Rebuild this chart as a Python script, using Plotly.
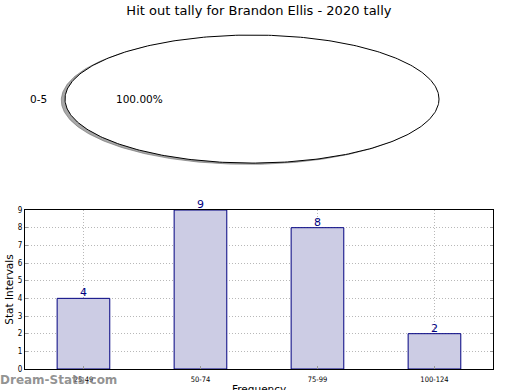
import numpy as np
import plotly.graph_objects as go

title = "Hit out tally for Brandon Ellis - 2020 tally"
pie_labels = ["0-5"]
pie_values = [1]
bar_categories = ["25-49", "50-74", "75-99", "100-124"]
bar_values = [4, 9, 8, 2]
y_ticks = list(range(0, 10))

fig = go.Figure()

# --- pie drawn like a matplotlib pie on a non-equal-aspect axis ---
total = sum(pie_values)
start = 0.0
for lab, v in zip(pie_labels, pie_values):
    frac = v / total
    th = np.linspace(start, start + 2 * np.pi * frac, 361)
    xs, ys = np.cos(th), np.sin(th)
    if frac < 0.9999:
        xs = np.concatenate([[0], xs, [0]])
        ys = np.concatenate([[0], ys, [0]])
    # shadow
    fig.add_trace(go.Scatter(x=xs - 0.02, y=ys - 0.02, mode="lines", fill="toself",
                             fillcolor="rgba(110,110,110,0.6)", line=dict(color="rgba(110,110,110,0.6)", width=1),
                             xaxis="x2", yaxis="y2", hoverinfo="skip", showlegend=False))
    fig.add_trace(go.Scatter(x=xs, y=ys, mode="lines", fill="toself",
                             fillcolor="white", line=dict(color="black", width=1),
                             xaxis="x2", yaxis="y2", hoverinfo="skip", showlegend=False))
    mid = start + np.pi * frac
    fig.add_annotation(x=1.1 * np.cos(mid), y=1.1 * np.sin(mid), xref="x2", yref="y2",
                       text=lab, showarrow=False, xanchor="right" if np.cos(mid) < 0 else "left",
                       xshift=3, font=dict(size=10.5, color="black"))
    fig.add_annotation(x=0.6 * np.cos(mid), y=0.6 * np.sin(mid), xref="x2", yref="y2",
                       text=f"{frac*100:.2f}%", showarrow=False,
                       font=dict(size=10.5, color="black"))
    start += 2 * np.pi * frac

# --- bar chart ---
fig.add_trace(go.Bar(x=bar_categories, y=bar_values, width=0.45,
                     marker=dict(color="#ccccE4", line=dict(color="#000080", width=1)),
                     showlegend=False))
for c, v in zip(bar_categories, bar_values):
    fig.add_annotation(x=c, y=v, xref="x", yref="y", text=str(v), showarrow=False,
                       yanchor="bottom", yshift=-3, font=dict(size=11, color="#000080"))

fig.update_layout(
    width=520, height=390,
    margin=dict(l=0, r=0, t=0, b=0, autoexpand=False),
    paper_bgcolor="white", plot_bgcolor="white",
    font=dict(family="DejaVu Sans", color="black"),
    title=dict(text=title, x=0.498, xanchor="center", y=0.974, yanchor="middle",
               font=dict(size=13)),
    xaxis2=dict(domain=[0.0531, 0.9162], range=[-1.2, 1.2], visible=False, anchor="y2"),
    yaxis2=dict(domain=[0.549, 0.943], range=[-1.2, 1.2], visible=False, anchor="x2"),
    xaxis=dict(domain=[0.048, 0.948], range=[-0.5, 3.5], anchor="y", automargin=False,
               showline=True, linecolor="black", linewidth=1, mirror=True,
               showgrid=True, gridcolor="#b8b8b8", griddash="1px,2px", gridwidth=1,
               ticks="inside", ticklen=3, tickcolor="#999999", ticklabelstandoff=3,
               tickfont=dict(size=7.5, family="DejaVu Sans Condensed")),
    yaxis=dict(domain=[0.0538, 0.4615], range=[0, 9], anchor="x", automargin=False,
               tickvals=y_ticks, showline=True, linecolor="black", linewidth=1, mirror="ticks",
               showgrid=True, gridcolor="#b8b8b8", griddash="1px,2px", gridwidth=1,
               ticks="inside", ticklen=3, tickcolor="#999999",
               tickfont=dict(size=8, family="DejaVu Sans Condensed"),
               title=dict(text="Stat Intervals", font=dict(size=10.5), standoff=2),
               zeroline=False),
)

# x-axis title, sitting at the bottom edge as in the reference
fig.add_annotation(x=0.498, y=0.0, xref="paper", yref="paper", xanchor="center", yanchor="middle",
                   yshift=1, text="Frequency", showarrow=False, font=dict(size=10.5, color="black"))

fig.add_annotation(x=0.0, y=0.0, xref="paper", yref="paper", xanchor="left", yanchor="bottom",
                   xshift=-2, yshift=1, text="<b>Dream-Stats.com</b>", showarrow=False,
                   font=dict(size=12, color="rgba(128,128,128,0.85)"))

fig.write_html("out.html", config={"displayModeBar": False},
               post_script="document.body.style.margin='0';document.body.style.overflow='hidden';")
